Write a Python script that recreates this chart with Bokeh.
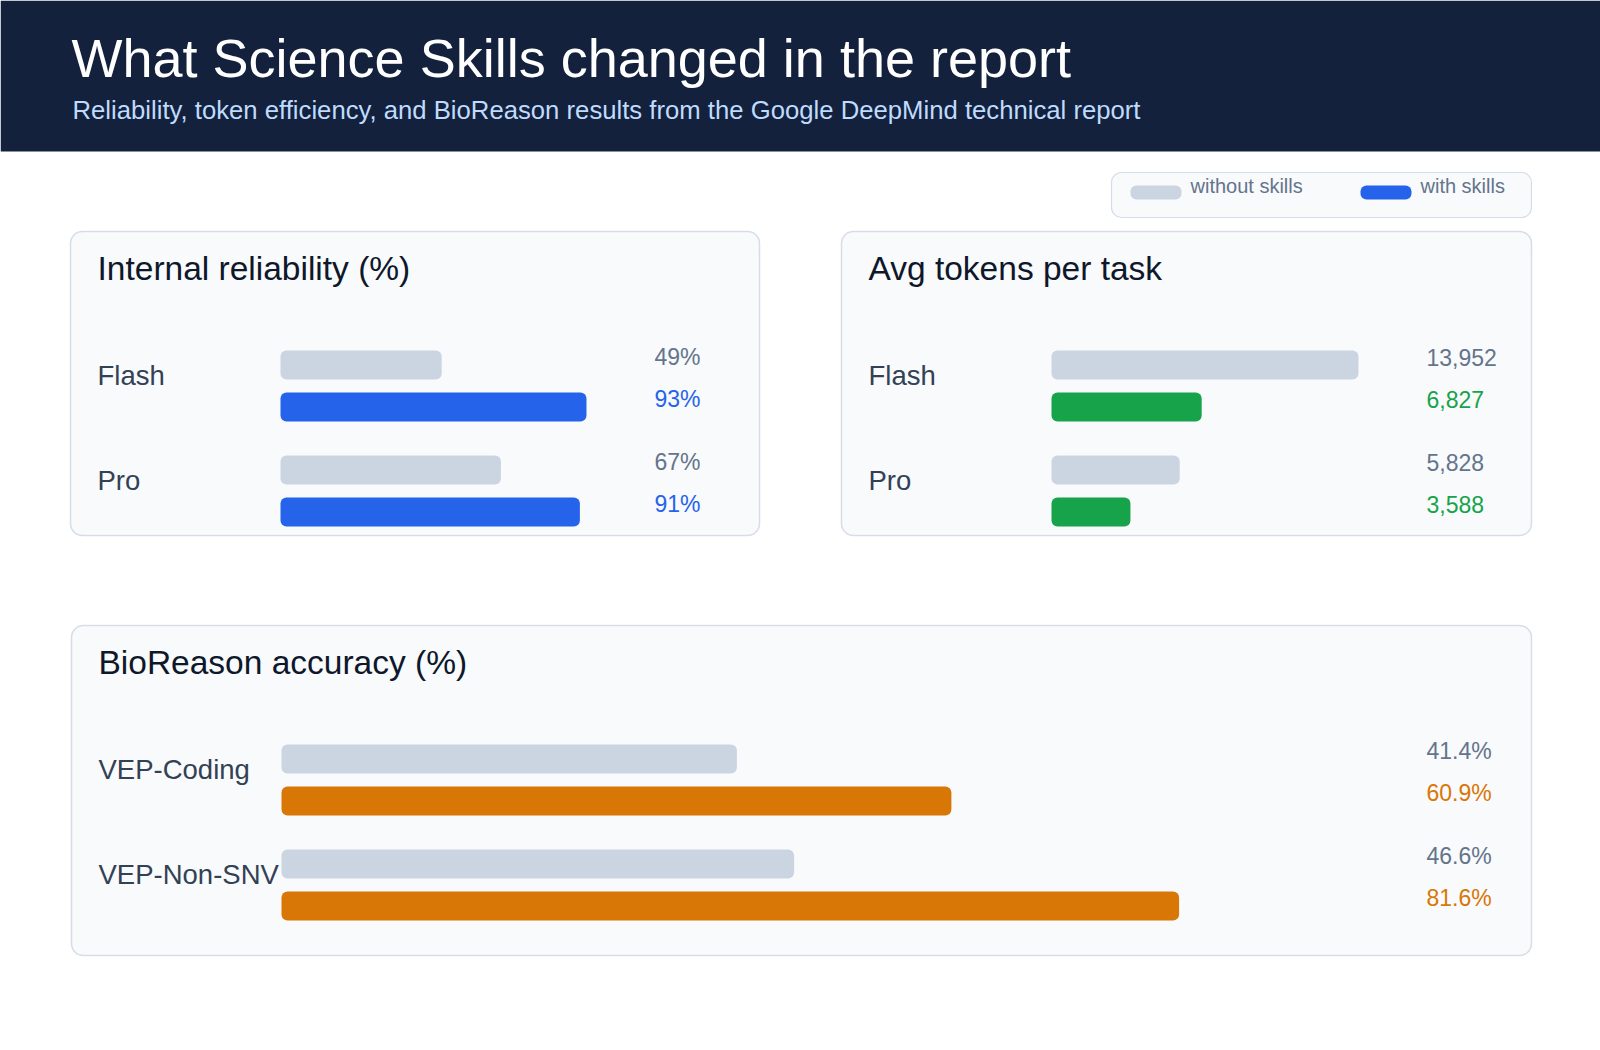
from bokeh.plotting import figure
from bokeh.models import Range1d
from bokeh.embed import file_html
from bokeh.resources import INLINE
from bokeh.core.properties import value

# ---------------- data ----------------
models = ["Flash", "Pro"]
reliability_without = [49, 67]
reliability_with = [93, 91]
tokens_without = [13952, 5828]
tokens_with = [6827, 3588]
bio_tasks = ["VEP-Coding", "VEP-Non-SNV"]
bio_without = [41.4, 46.6]
bio_with = [60.9, 81.6]

title_text = "What Science Skills changed in the report"
subtitle_text = "Reliability, token efficiency, and BioReason results from the Google DeepMind technical report"
legend_labels = ["without skills", "with skills"]
panel_titles = ["Internal reliability (%)", "Avg tokens per task", "BioReason accuracy (%)"]

# ---------------- styles ----------------
FONT = value("Liberation Sans")
HEADER_BG = "#13213c"
PANEL_BG = "#f8fafc"
PANEL_LINE = "#d6dde7"
GRAY_BAR = "#cbd5e1"
GRAY_TXT = "#64748b"
BLUE = "#2563eb"
GREEN = "#16a34a"
ORANGE = "#d97706"
TITLE_C = "#0f172a"
LABEL_C = "#334155"

W, H = 1600, 1034
OFF = 0
K = 0.41  # baseline correction factor (fraction of font size)


def X(px):
    return px - OFF


def Y(py):
    return H - (py - OFF)


p = figure(width=W, height=H, x_range=Range1d(0, W), y_range=Range1d(0, H),
           output_backend="svg", toolbar_location=None, min_border=0,
           x_axis_location=None, y_axis_location=None,
           outline_line_color=None, background_fill_color="white",
           border_fill_color="white")
p.grid.visible = False


def txt(x, y, s, size, color, align="left"):
    p.text(x=[X(x)], y=[Y(y - K * size)], text=[s], text_font=FONT,
           text_font_size=f"{size}px", text_color=color,
           text_align=align, text_baseline="alphabetic")


# header band
p.quad(left=X(0), right=X(1600), top=Y(0), bottom=Y(151),
       fill_color=HEADER_BG, line_color=None)
txt(71, 80, title_text, 54, "white")
txt(72, 120, subtitle_text, 25.7, "#bfdbfe")

# legend
p.quad(left=X(1111), right=X(1531), top=Y(172), bottom=Y(217),
       fill_color=PANEL_BG, line_color=PANEL_LINE, line_width=1.2,
       border_radius=10)
p.quad(left=[X(1130), X(1360)], right=[X(1181), X(1411)],
       top=Y(185), bottom=Y(199), fill_color=[GRAY_BAR, BLUE],
       line_color=None, border_radius=6)
txt(1190, 194, legend_labels[0], 20, GRAY_TXT)
txt(1420, 194, legend_labels[1], 20, GRAY_TXT)


def panel(name, left, top, right, bottom, ptitle, cats, without, with_,
          color, dmax, fmt):
    p.quad(left=X(left), right=X(right), top=Y(top), bottom=Y(bottom),
           fill_color=PANEL_BG, line_color=PANEL_LINE, line_width=1.5,
           border_radius=12)
    txt(left + 27, top + 51, ptitle, 33.5, TITLE_C)
    x0 = left + 210
    bar_w = (right - 150) - x0
    s = bar_w / dmax
    p.extra_x_ranges[name] = Range1d(start=(0 - X(x0)) / s, end=(W - X(x0)) / s)
    gcs = [top + 154.5 + i * 105 for i in range(len(cats))]
    p.hbar(y=[Y(g - 21) for g in gcs], left=0, right=without, height=29,
           x_range_name=name, fill_color=GRAY_BAR, line_color=None,
           border_radius=6)
    p.hbar(y=[Y(g + 21) for g in gcs], left=0, right=with_, height=29,
           x_range_name=name, fill_color=color, line_color=None,
           border_radius=6)
    lx = right - 105
    for g, c, a, b in zip(gcs, cats, without, with_):
        txt(left + 27, g + 0.5, c, 27.5, LABEL_C)
        txt(lx, g - 19.5, fmt(a), 23, GRAY_TXT)
        txt(lx, g + 22.5, fmt(b), 23, color)


panel("rel", 70, 231, 759, 535, panel_titles[0], models,
      reliability_without, reliability_with, BLUE, 100,
      lambda v: f"{v:.0f}%")
panel("tok", 841, 231, 1531, 535, panel_titles[1], models,
      tokens_without, tokens_with, GREEN, 15000,
      lambda v: f"{v:,}")
panel("bio", 71, 625, 1531, 955, panel_titles[2], bio_tasks,
      bio_without, bio_with, ORANGE, 100,
      lambda v: f"{v:.1f}%")

open("out.html", "w").write(file_html(p, INLINE))
